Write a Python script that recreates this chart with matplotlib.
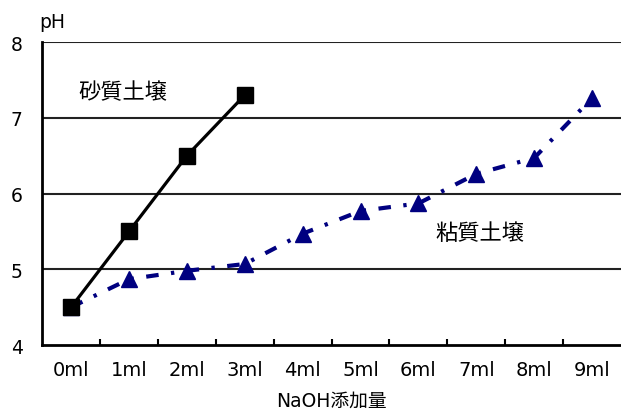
import matplotlib
matplotlib.use('Agg')
import matplotlib.pyplot as plt

plt.rcParams['font.family'] = ['DejaVu Sans', 'Noto Sans CJK JP']

labels = ['0ml', '1ml', '2ml', '3ml', '4ml', '5ml', '6ml', '7ml', '8ml', '9ml']
sand_ph = [4.5, 5.5, 6.5, 7.3]
clay_ph = [4.5, 4.87, 4.98, 5.07, 5.47, 5.77, 5.87, 6.26, 6.47, 7.26]

fig = plt.figure(figsize=(6.21, 4.10), dpi=100)
ax = fig.add_axes([0.068, 0.156, 0.932, 0.739])

ax.plot(range(len(clay_ph)), clay_ph, color='#000080', lw=3,
        linestyle=(0, (3, 3, 0.8, 3)), marker='^', markersize=12, zorder=3)
ax.plot(range(len(sand_ph)), sand_ph, color='black', lw=2.3,
        marker='s', markersize=11.5, zorder=4)

ax.set_xlim(-0.5, 9.5)
ax.set_ylim(4, 8)
ax.set_yticks([4, 5, 6, 7, 8])
for y in [5, 6, 7, 8]:
    ax.axhline(y, color='#222222', lw=1.5, zorder=1)

ax.set_xticks(range(len(labels)))
ax.set_xticklabels(labels, fontsize=14)
ax.set_xticks([i + 0.5 for i in range(9)], minor=True)
ax.tick_params(axis='x', which='major', length=0, pad=11)
ax.tick_params(axis='x', which='minor', direction='in', length=4, width=1.5)
ax.tick_params(axis='y', length=0, pad=14, labelsize=13.5)

for s in ['top', 'right']:
    ax.spines[s].set_visible(False)
ax.spines['left'].set_linewidth(2)
ax.spines['bottom'].set_linewidth(2)

ax.text(0.12, 7.35, '砂質土壌', fontsize=16, va='center',
        family='Noto Sans CJK JP')
ax.text(6.29, 5.48, '粘質土壌', fontsize=16, va='center',
        family='Noto Sans CJK JP')
fig.text(0.064, 0.945, 'pH', fontsize=13.5, va='center')
ax.set_xlabel('NaOH添加量', fontsize=13.5, labelpad=8)

fig.savefig('out.png', dpi=100)
